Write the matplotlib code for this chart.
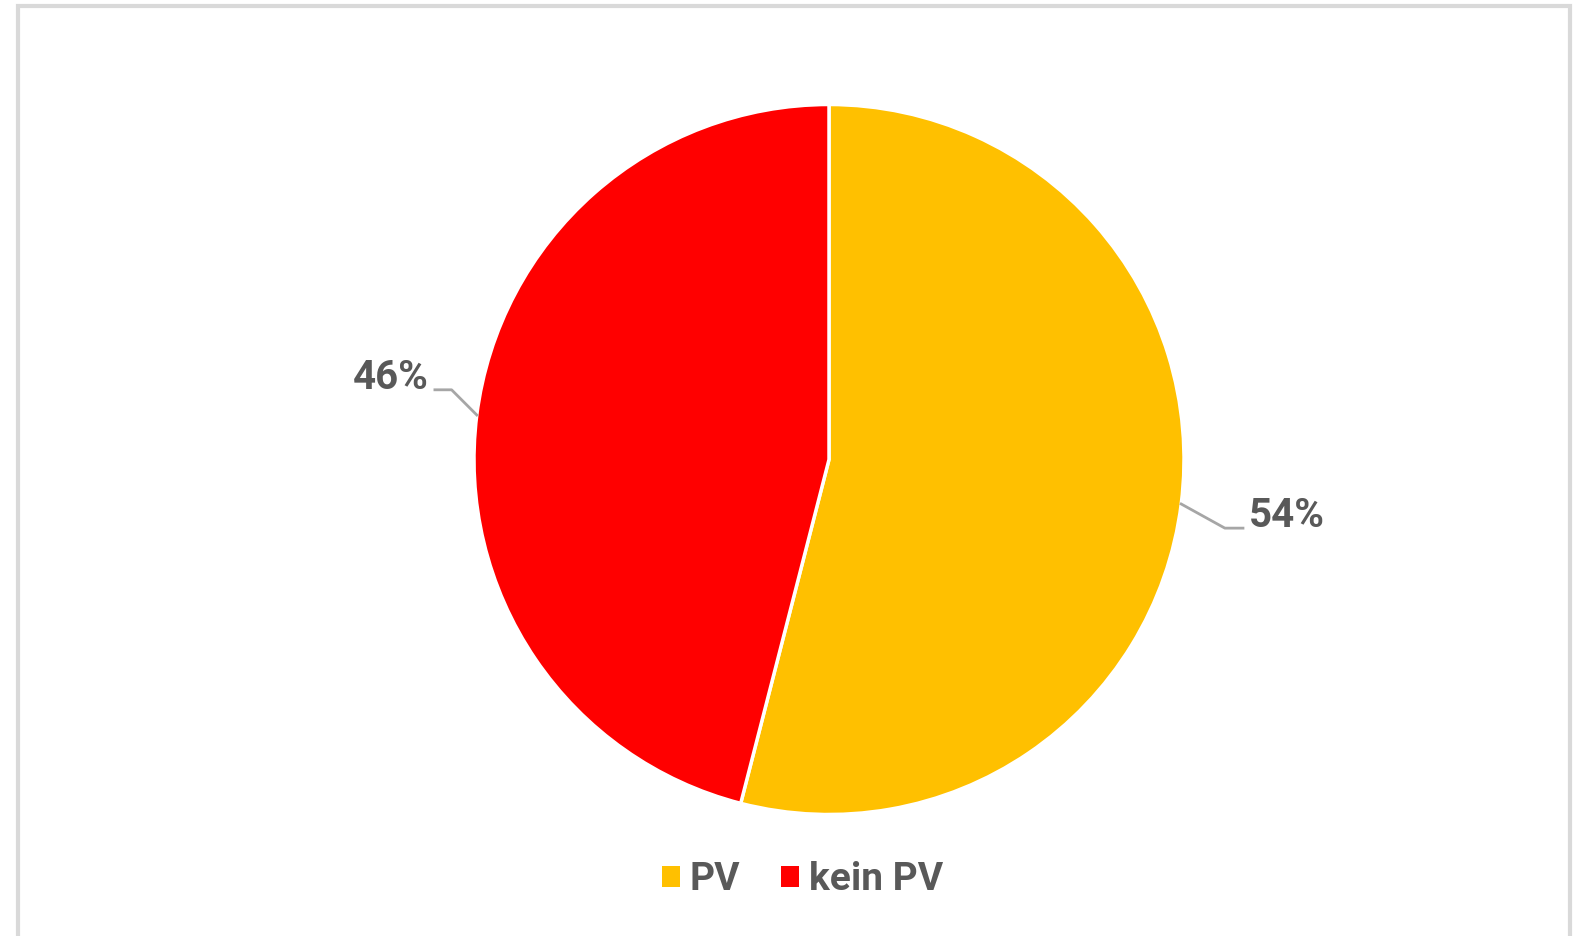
import numpy as np
import matplotlib
matplotlib.use("Agg")
import matplotlib.pyplot as plt
from matplotlib.patches import Rectangle, Patch

plt.rcParams['font.family'] = ['Roboto', 'DejaVu Sans']

labels = ['PV', 'kein PV']
werte = [54, 46]
farben = ['#FFC000', '#FF0000']
text_grau = '#595959'
linie_grau = '#A6A6A6'

fig = plt.figure(figsize=(15.76, 9.36), dpi=100)

# grauer Rahmen
fig.patches.append(Rectangle((18 / 1576, -0.05), 1552 / 1576, 1.05 - 6 / 936,
                             transform=fig.transFigure, fill=False,
                             edgecolor='#D9D9D9', linewidth=3))

ax = fig.add_axes([474 / 1576, (936 - 814.5) / 936, 710 / 1576, 710 / 936])
wedges, _ = ax.pie(werte, colors=farben, startangle=90, counterclock=False,
                   wedgeprops=dict(edgecolor='white', linewidth=2.5))
ax.set_xlim(-1, 1)
ax.set_ylim(-1, 1)
ax.set_aspect('equal')
ax.axis('off')

# Datenbeschriftungen mit Führungslinien
for w, wert in zip(wedges, werte):
    mitte = np.deg2rad((w.theta1 + w.theta2) / 2)
    x0, y0 = np.cos(mitte), np.sin(mitte)
    seite = np.sign(x0)
    if seite > 0:
        knick = (x0 + 0.123, y0 - 0.068)
        ende = (knick[0] + 0.051, knick[1])
    else:
        knick = (x0 - 0.071, y0 + 0.071)
        ende = (knick[0] - 0.047, knick[1])
    ax.plot([x0, knick[0], ende[0]], [y0, knick[1], ende[1]],
            color=linie_grau, linewidth=2, clip_on=False)
    ax.text(ende[0] + seite * 0.016, ende[1] + 0.034, f'{wert}%',
            ha='left' if seite > 0 else 'right', va='center',
            fontsize=29, fontweight='bold', color=text_grau)

handles = [Patch(facecolor=c, edgecolor='none') for c in farben]
leg = fig.legend(handles, labels, loc='center', ncol=2,
                 bbox_to_anchor=(802.5 / 1576, 1 - 880 / 936),
                 frameon=False, handlelength=0.46, handleheight=0.46,
                 handletextpad=0.26, columnspacing=1.05,
                 prop=dict(size=28, weight='bold'))
for t in leg.get_texts():
    t.set_color(text_grau)

fig.savefig('out.png', dpi=100, facecolor='white')
